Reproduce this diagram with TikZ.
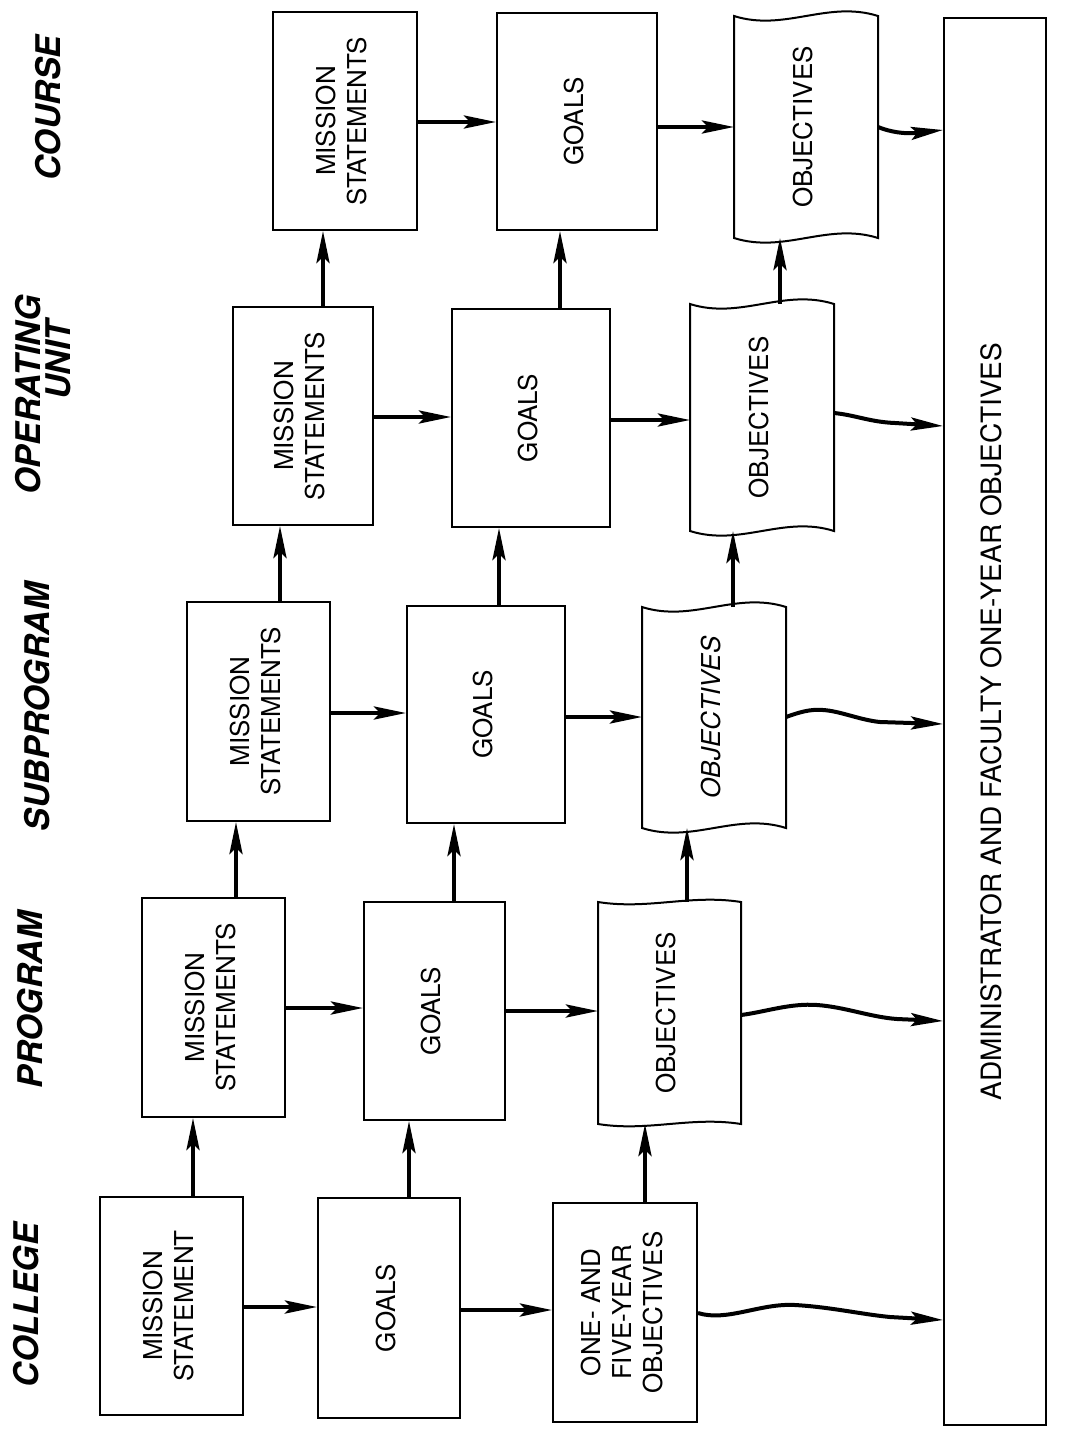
\documentclass[tikz,border=0pt]{standalone}
\usepackage{graphicx}
\usepackage{fontspec}
\setmainfont{TeX Gyre Heros}
\usetikzlibrary{arrows.meta,calc}

% text set bottom-to-top inside a box
\newcommand{\uptext}[1]{\rotatebox{90}{\begin{tabular}{@{}c@{}}#1\end{tabular}}}

% box given by two corners (in picture units): style, name, x1, y1, x2, y2, text
\newcommand{\blk}[7]{%
  \pgfmathsetmacro\blkcx{(#3+#5)/2}\pgfmathsetmacro\blkcy{(#4+#6)/2}%
  \pgfmathsetmacro\blkw{(#5-#3)/2}\pgfmathsetmacro\blkh{(#6-#4)/2}%
  \node[#1, minimum width=\blkw pt, minimum height=\blkh pt] (#2) at (\blkcx,\blkcy) {\uptext{#7}};}

% outline of a box whose short edges are torn (wavy)
\newcommand{\tornoutline}[2]{%
  \draw[line width=1pt] (#1.north west)
    .. controls ($(#1.north west)!0.35!(#1.north east)+(0,#2)$)
           and ($(#1.north west)!0.65!(#1.north east)+(0,-#2)$) .. (#1.north east)
    -- (#1.south east)
    .. controls ($(#1.south east)!0.35!(#1.south west)+(0,-#2)$)
           and ($(#1.south east)!0.65!(#1.south west)+(0,#2)$) .. (#1.south west)
    -- cycle;}

\tikzset{
  box/.style={draw, line width=1pt, inner sep=0pt, font=\fontsize{13}{15.5}\selectfont},
  tornbox/.style={box, draw=none},
  link/.style={line width=2pt, -{Stealth[length=16pt,width=6.5pt,inset=3pt]}},
  head/.style={font=\fontsize{17}{19}\selectfont\bfseries\itshape, inner sep=0pt, rotate=90},
}

\begin{document}
\begin{tikzpicture}[x=0.5pt,y=-0.5pt]
\useasboundingbox (0,0) rectangle (1070,1430);

% level headings
\node[head] (hcol) at (26,1305) {COLLEGE};
\node[head] (hprg) at (30,1000) {PROGRAM};
\node[head] (hsub) at (37,707) {SUBPROGRAM};
\node[head] (hop1) at (28,395) {OPERATING};
\node[head] (hop2) at (58,360) {UNIT};
\node[head] (hcrs) at (48,108) {COURSE};

% college
\blk{box}{cM}{100}{1197}{243}{1415}{MISSION\\STATEMENT}
\blk{box}{cG}{318}{1198}{460}{1418}{GOALS}
\blk{box}{cO}{553}{1203}{697}{1422}{ONE- AND\\FIVE-YEAR\\OBJECTIVES}

% program
\blk{box}{pM}{142}{898}{285}{1117}{MISSION\\STATEMENTS}
\blk{box}{pG}{364}{902}{505}{1120}{GOALS}
\blk{tornbox}{pO}{599}{903}{740}{1123}{OBJECTIVES}
\tornoutline{pO}{8}

% subprogram
\blk{box}{sM}{187}{602}{330}{821}{MISSION\\STATEMENTS}
\blk{box}{sG}{407}{606}{565}{823}{GOALS}
\blk{tornbox}{sO}{643}{608}{785}{827}{\itshape OBJECTIVES}
\tornoutline{sO}{16}

% operating unit
\blk{box}{oM}{233}{307}{373}{525}{MISSION\\STATEMENTS}
\blk{box}{oG}{452}{309}{610}{527}{GOALS}
\blk{tornbox}{oO}{691}{305}{833}{530}{OBJECTIVES}
\tornoutline{oO}{16}

% course
\blk{box}{kM}{273}{12}{417}{230}{MISSION\\STATEMENTS}
\blk{box}{kG}{497}{13}{657}{230}{GOALS}
\blk{tornbox}{kO}{735}{17}{877}{237}{OBJECTIVES}
\tornoutline{kO}{16}

% common target
\blk{box, font=\fontsize{14}{16}\selectfont}{adm}{944}{18}{1046}{1425}{ADMINISTRATOR AND FACULTY ONE-YEAR OBJECTIVES}

% flow within each level
\draw[link] (cM.east |- 0,1307) -- (cG.west |- 0,1307);
\draw[link] (cG.east |- 0,1310) -- (cO.west |- 0,1310);
\draw[link] (pM.east |- 0,1008) -- (pG.west |- 0,1008);
\draw[link] (pG.east |- 0,1011) -- (pO.west |- 0,1011);
\draw[link] (sM.east |- 0,713) -- (sG.west |- 0,713);
\draw[link] (sG.east |- 0,717) -- (sO.west |- 0,717);
\draw[link] (oM.east |- 0,417) -- (oG.west |- 0,417);
\draw[link] (oG.east |- 0,420) -- (oO.west |- 0,420);
\draw[link] (kM.east |- 0,122) -- (kG.west |- 0,122);
\draw[link] (kG.east |- 0,127) -- (kO.west |- 0,127);

% flow from level to level
\draw[link] (cM.north -| 193,0) -- (pM.south -| 193,0);
\draw[link] (cG.north -| 409,0) -- (pG.south -| 409,0);
\draw[link] (cO.north -| 645,0) -- (pO.south -| 645,0);
\draw[link] (pM.north -| 236,0) -- (sM.south -| 236,0);
\draw[link] (pG.north -| 454,0) -- (sG.south -| 454,0);
\draw[link] (pO.north -| 687,0) -- (sO.south -| 687,0);
\draw[link] (sM.north -| 280,0) -- (oM.south -| 280,0);
\draw[link] (sG.north -| 499,0) -- (oG.south -| 499,0);
\draw[link] (sO.north -| 733,0) -- (oO.south -| 733,0);
\draw[link] (oM.north -| 323,0) -- (kM.south -| 323,0);
\draw[link] (oG.north -| 560,0) -- (kG.south -| 560,0);
\draw[link] (oO.north -| 780,0) -- (kO.south -| 780,0);

% objectives feeding the one-year objectives
\draw[link] (cO.east |- 0,1313) .. controls (727,1322) and (760,1303) .. (795,1305)
  .. controls (830,1307) and (860,1314) .. (890,1317) -- (adm.west |- 0,1320);
\draw[link] (pO.east |- 0,1015) .. controls (765,1012) and (790,1003) .. (817,1005)
  .. controls (845,1007) and (870,1017) .. (897,1019) -- (adm.west |- 0,1021);
\draw[link] (sO.east |- 0,717) .. controls (800,712) and (810,709) .. (823,710)
  .. controls (840,711) and (860,720) .. (880,722) -- (adm.west |- 0,724);
\draw[link] (oO.east |- 0,413) .. controls (855,415) and (870,422) .. (895,423)
  -- (adm.west |- 0,426);
\draw[link] (kO.east |- 0,127) .. controls (890,132) and (905,134) .. (915,133)
  -- (adm.west |- 0,130);
\end{tikzpicture}
\end{document}
